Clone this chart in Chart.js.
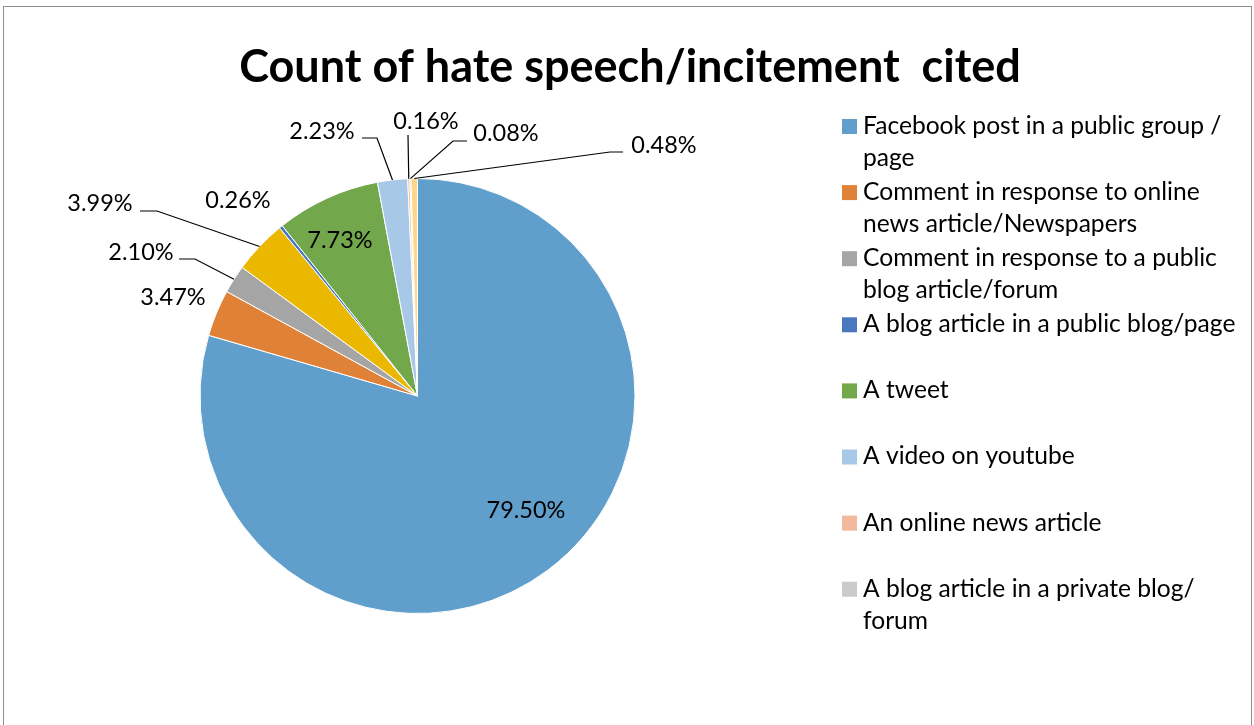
<!DOCTYPE html>
<html>
<head>
<meta charset="utf-8">
<title>Count of hate speech/incitement cited</title>
<script src="https://cdn.jsdelivr.net/npm/chart.js@4.4.1/dist/chart.umd.min.js"></script>
<style>
    html, body { margin: 0; padding: 0; background: #fff; }
    #frame {
        position: absolute; left: 3px; top: 6px; width: 1249px; height: 800px;
        border: 1px solid #8e8e8e; box-sizing: border-box;
    }
    #wrap { position: absolute; left: 0; top: 0; width: 1254px; height: 725px; }
</style>
</head>
<body>
<div id="frame"></div>
<div id="wrap"><canvas id="hateChart" width="1254" height="725"></canvas></div>
<script>
// slice names (lines as wrapped in the legend), empty = not in legend
const categories = [
    ['Facebook post in a public group /', 'page'],
    ['Comment in response to online', 'news article/Newspapers'],
    ['Comment in response to a public', 'blog article/forum'],
    [],
    ['A blog article in a public blog/page'],
    ['A tweet'],
    ['A video on youtube'],
    ['An online news article'],
    ['A blog article in a private blog/', 'forum'],
    []
];
const shares = [79.50, 3.47, 2.10, 3.99, 0.26, 7.73, 2.23, 0.16, 0.08, 0.48];
const sliceColors = ['#609ECB', '#DF8237', '#A5A5A5', '#EAB800', '#4A78BE',
                     '#72A74C', '#A8C8E7', '#F3B99C', '#CBCBCB', '#FDD68E'];

// Excel had the labels dragged around by hand: text centre, and leader start/elbow
const labelSpots = [
    { x: 526, y: 510 },
    { x: 173, y: 297 },
    { x: 141, y: 252, from: [179, 259], elbow: [195, 259] },
    { x: 100, y: 203, from: [140, 211], elbow: [157, 211] },
    { x: 238, y: 200 },
    { x: 340, y: 240 },
    { x: 322, y: 131, from: [362, 138], elbow: [377, 138] },
    { x: 426, y: 121, from: [408, 135], elbow: [408, 135] },
    { x: 506, y: 133, from: [467, 141], elbow: [453, 141] },
    { x: 664, y: 145, from: [623, 152], elbow: [610, 152] }
];

const FONT = 'Lato, "Open Sans", sans-serif';

const excelBits = {
    id: 'excelBits',
    afterDatasetsDraw(chart) {
        const ctx = chart.ctx;
        const arcs = chart.getDatasetMeta(0).data;
        ctx.save();
        // data labels + leader lines
        ctx.font = '23.5px ' + FONT;
        ctx.fillStyle = '#000';
        ctx.textAlign = 'center';
        ctx.textBaseline = 'middle';
        ctx.strokeStyle = '#000';
        ctx.lineWidth = 1.2;
        arcs.forEach((arc, i) => {
            const spot = labelSpots[i];
            const p = arc.getProps(['x', 'y', 'startAngle', 'endAngle', 'outerRadius'], true);
            if (spot.from) {
                const mid = (p.startAngle + p.endAngle) / 2;
                ctx.beginPath();
                ctx.moveTo(spot.from[0], spot.from[1]);
                ctx.lineTo(spot.elbow[0], spot.elbow[1]);
                ctx.lineTo(p.x + Math.cos(mid) * p.outerRadius, p.y + Math.sin(mid) * p.outerRadius);
                ctx.stroke();
            }
            ctx.fillText(shares[i].toFixed(2) + '%', spot.x, spot.y);
        });

        // title
        ctx.font = 'bold 45px ' + FONT;
        ctx.fillText('Count of hate speech/incitement  cited', 630, 67);

        // legend on the right, fixed 66px slots
        ctx.font = '24.6px ' + FONT;
        ctx.textAlign = 'left';
        let row = 0;
        categories.forEach((lines, i) => {
            if (!lines.length) return;
            const top = 126 + row * 66.1;
            ctx.fillStyle = sliceColors[i];
            ctx.fillRect(842, top - 7, 15, 15);
            ctx.fillStyle = '#000';
            lines.forEach((t, k) => ctx.fillText(t, 863, top + k * 32));
            row++;
        });
        ctx.restore();
    }
};

new Chart(document.getElementById('hateChart'), {
    type: 'pie',
    data: {
        labels: categories.map(l => l.join(' ')),
        datasets: [{
            data: shares,
            backgroundColor: sliceColors,
            borderColor: '#ffffff',
            borderWidth: 1
        }]
    },
    options: {
        responsive: false,
        animation: false,
        layout: { padding: { left: 199, right: 618, top: 178, bottom: 111 } },
        plugins: {
            legend: { display: false },
            tooltip: { enabled: false }
        }
    },
    plugins: [excelBits]
});
</script>
</body>
</html>
